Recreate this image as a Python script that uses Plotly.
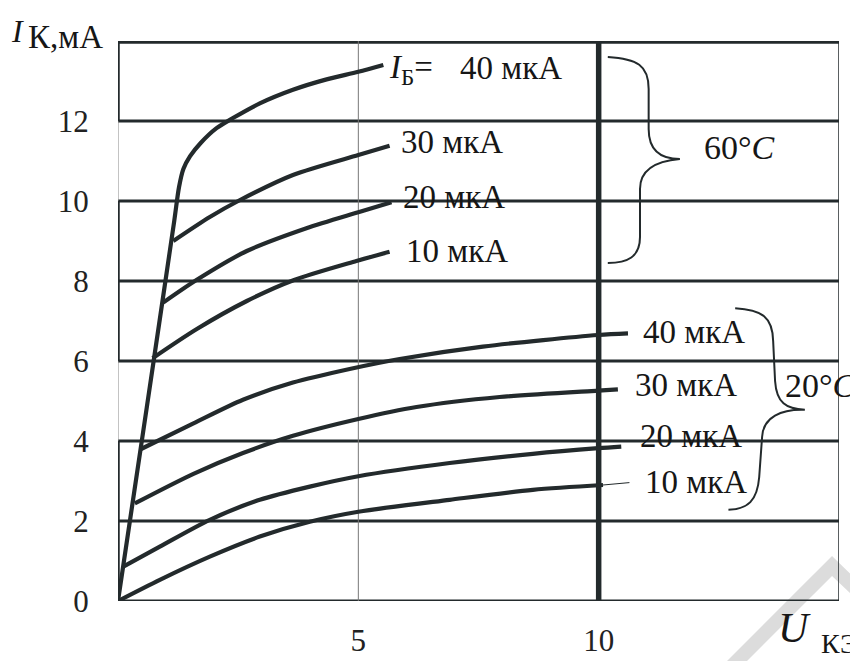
import plotly.graph_objects as go

# ---- data (U_КЭ in V, I_К in mA) ----
u_60_40 = [0, 0.6, 1.17, 1.27, 1.36, 1.5, 1.72, 2.05, 2.4, 2.95, 3.64, 4.34, 5.0, 5.52]
i_60_40 = [0, 4.85, 9.5, 10.35, 10.8, 11.12, 11.45, 11.82, 12.08, 12.44, 12.78, 13.04, 13.23, 13.4]
u_60_30 = [1.15, 1.91, 2.5, 3.64, 5.0, 5.65]
i_60_30 = [9.0, 9.6, 10.0, 10.65, 11.15, 11.38]
u_60_20 = [0.94, 1.64, 2.68, 3.92, 5.0, 5.69]
i_60_20 = [7.46, 8.03, 8.75, 9.32, 9.72, 9.97]
u_60_10 = [0.72, 1.64, 2.68, 3.65, 4.96, 5.65]
i_60_10 = [6.07, 6.8, 7.5, 8.02, 8.5, 8.73]

u_20_40 = [0.48, 1.57, 2.6, 3.64, 4.82, 5.86, 7.59, 9.99, 10.61]
i_20_40 = [3.8, 4.44, 5.03, 5.46, 5.8, 6.05, 6.36, 6.65, 6.69]
u_20_30 = [0.35, 1.57, 2.6, 3.64, 5.0, 6.21, 7.94, 9.99, 10.4]
i_20_30 = [2.44, 3.18, 3.7, 4.13, 4.55, 4.85, 5.1, 5.26, 5.29]
u_20_20 = [0.11, 0.87, 1.91, 2.95, 3.99, 5.0, 6.9, 8.63, 9.99, 10.47]
i_20_20 = [0.86, 1.36, 2.03, 2.53, 2.86, 3.12, 3.45, 3.68, 3.82, 3.86]
u_20_10 = [0, 0.87, 1.91, 2.95, 3.99, 5.0, 6.9, 8.63, 10.09]
i_20_10 = [0, 0.53, 1.11, 1.61, 1.98, 2.23, 2.53, 2.78, 2.9]

x_ticks = [5, 10]
x_ticklabels = ["5", "10"]
y_ticks = [0, 2, 4, 6, 8, 10, 12]
y_ticklabels = ["0", "2", "4", "6", "8", "10", "12"]

labels_60 = ["30 мкА", "20 мкА", "10 мкА"]
labels_20 = ["40 мкА", "30 мкА", "20 мкА", "10 мкА"]

DARK = "#232a2c"
FONT = "Liberation Serif, Times New Roman, serif"

fig = go.Figure()

curves = [
    (u_60_40, i_60_40), (u_60_30, i_60_30), (u_60_20, i_60_20), (u_60_10, i_60_10),
    (u_20_40, i_20_40), (u_20_30, i_20_30), (u_20_20, i_20_20), (u_20_10, i_20_10),
]
for u, i in curves:
    fig.add_trace(go.Scatter(x=u, y=i, mode="lines",
                             line=dict(color=DARK, width=4.2, shape="spline", smoothing=0.8),
                             hoverinfo="skip", showlegend=False))

# thin leader from the 10 мкА (20°C) curve towards its label
fig.add_trace(go.Scatter(x=[u_20_10[-1], 10.64], y=[i_20_10[-1], 2.96], mode="lines",
                         line=dict(color=DARK, width=1), hoverinfo="skip", showlegend=False))

shapes = []
# watermark
shapes.append(dict(type="path", xref="paper", yref="paper", layer="below",
                   path="M 0.8447,-0.1071 L 0.9903,0.0804 L 1.04,0.018 L 1.04,-0.016 L 0.9903,0.0446 L 0.8724,-0.1071 Z",
                   fillcolor="#dcdcdc", line=dict(width=0)))
# horizontal grid lines
for yv in y_ticks:
    shapes.append(dict(type="line", xref="x", yref="y", x0=0, x1=15, y0=yv, y1=yv,
                       line=dict(color=DARK, width=3), layer="below"))
shapes.append(dict(type="line", xref="x", yref="y", x0=0, x1=15, y0=14, y1=14,
                   line=dict(color=DARK, width=5.5), layer="below"))
# vertical lines
shapes.append(dict(type="line", xref="x", yref="y", x0=5, x1=5, y0=0, y1=14,
                   line=dict(color="#777777", width=1), layer="below"))
shapes.append(dict(type="line", xref="x", yref="y", x0=10, x1=10, y0=0, y1=14,
                   line=dict(color=DARK, width=5.5), layer="below"))
shapes.append(dict(type="line", xref="x", yref="y", x0=15, x1=15, y0=0, y1=14,
                   line=dict(color=DARK, width=1.5), layer="below"))
# left edge: thick and thin segments
for y0, y1 in [(0, 4), (6, 10), (12, 14)]:
    shapes.append(dict(type="line", xref="x", yref="y", x0=0, x1=0, y0=y0, y1=y1,
                       line=dict(color=DARK, width=3.5), layer="below"))
for y0, y1 in [(4, 6), (10, 12)]:
    shapes.append(dict(type="line", xref="x", yref="y", x0=0, x1=0, y0=y0, y1=y1,
                       line=dict(color="#888888", width=1), layer="below"))
# braces
shapes.append(dict(type="path", xref="x", yref="y",
                   path=("M 10.19,13.6 C 10.8,13.55 11.04,13.4 11.04,12.8 L 11.04,11.8 "
                         "C 11.04,11.25 11.3,11.05 11.69,11.05 "
                         "C 11.2,11.0 10.86,10.8 10.86,10.3 L 10.86,9.1 "
                         "C 10.86,8.6 10.6,8.45 10.19,8.45"),
                   line=dict(color=DARK, width=2)))
shapes.append(dict(type="path", xref="x", yref="y",
                   path=("M 12.84,7.32 C 13.4,7.28 13.62,7.1 13.63,6.5 L 13.67,5.5 "
                         "C 13.7,4.95 13.9,4.8 14.29,4.78 "
                         "C 13.8,4.8 13.42,4.6 13.4,4.1 L 13.34,3.1 "
                         "C 13.3,2.5 13.1,2.3 12.7,2.28"),
                   line=dict(color=DARK, width=2)))

ann = []
def lab(x, y, text, size=33, xanchor="left", xref="x", yref="y"):
    ann.append(dict(x=x, y=y, xref=xref, yref=yref, text=text, showarrow=False,
                    xanchor=xanchor, yanchor="middle",
                    font=dict(family=FONT, size=size, color="#161616")))

lab(5.6, 13.3, "<i>I</i><sub>Б</sub>=")
lab(7.08, 13.33, "40 мкА")
for (x, y), t in zip([(5.84, 11.48), (5.88, 10.1), (5.94, 8.75)], labels_60):
    lab(x, y, t)
for (x, y), t in zip([(10.88, 6.73), (10.72, 5.4), (10.82, 4.13), (10.92, 2.98)], labels_20):
    lab(x, y, t)
lab(12.94, 11.35, "60°<i>C</i>", size=34, xanchor="center")
lab(14.62, 5.38, "20°<i>C</i>", size=34, xanchor="center")

# axis titles
lab(-0.1387, 1.0179, "<i>I</i>", size=32, xanchor="center", xref="paper", yref="paper")
lab(-0.127, 1.0071, "К,мА", size=33, xref="paper", yref="paper")
lab(0.9376, -0.0482, "<i>U</i>", size=42, xanchor="center", xref="paper", yref="paper")
lab(0.9723, -0.0755, "КЭ", size=28, xref="paper", yref="paper")

fig.update_layout(
    width=850, height=653,
    margin=dict(l=110, r=19, t=33, b=60),
    paper_bgcolor="white", plot_bgcolor="white",
    font=dict(family=FONT, size=31, color="#222222"),
    shapes=shapes, annotations=ann,
    xaxis=dict(range=[0, 15], showgrid=False, zeroline=False, showline=False,
               tickvals=x_ticks, ticktext=x_ticklabels, ticks="outside", ticklen=12,
               tickcolor="rgba(0,0,0,0)", fixedrange=True, automargin=False),
    yaxis=dict(range=[0, 14], showgrid=False, zeroline=False, showline=False,
               tickvals=y_ticks, ticktext=y_ticklabels, ticks="outside", ticklen=22,
               tickcolor="rgba(0,0,0,0)", fixedrange=True, automargin=False),
)

fig.write_html("out.html")
